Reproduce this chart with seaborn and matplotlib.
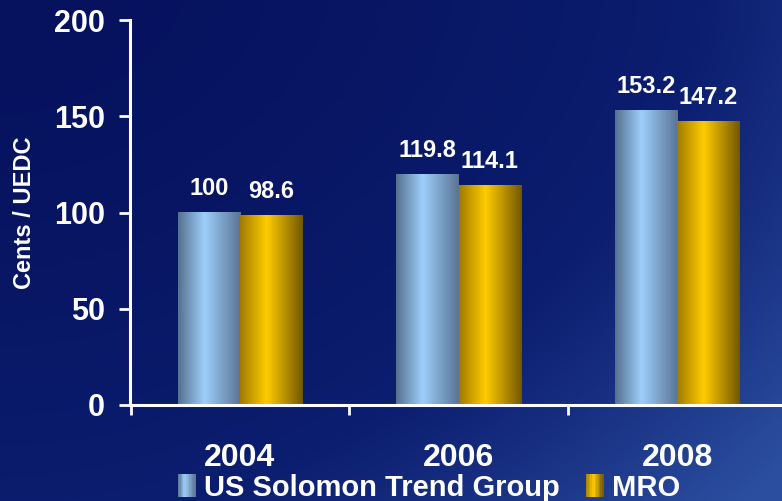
import numpy as np
import pandas as pd
import seaborn as sns
from matplotlib import pyplot as plt
from matplotlib.colors import LinearSegmentedColormap
from matplotlib.patches import Rectangle, Patch
from matplotlib.legend_handler import HandlerBase

years = ['2004', '2006', '2008']
series = ['US Solomon Trend Group', 'MRO']
solomon = [100, 119.8, 153.2]
mro = [98.6, 114.1, 147.2]
value_labels = [['100', '119.8', '153.2'], ['98.6', '114.1', '147.2']]

# cylinder-like shading for each series (left edge, highlight, right edge)
shades = {
    'US Solomon Trend Group': ['#56708e', '#9dcffb', '#5a7394'],
    'MRO': ['#a07a00', '#ffcc00', '#735800'],
}
cmaps = {k: LinearSegmentedColormap.from_list(k, [(0, v[0]), (0.42, v[1]), (1, v[2])])
         for k, v in shades.items()}

df = pd.DataFrame({
    'year': years * 2,
    'value': solomon + mro,
    'series': [series[0]] * 3 + [series[1]] * 3,
})

sns.set_theme(style='white')
plt.rcParams['font.family'] = ['Liberation Sans', 'DejaVu Sans']
plt.rcParams['font.weight'] = 'bold'

W, H = 782, 501
fig = plt.figure(figsize=(W / 100, H / 100), dpi=100)

# background gradient
bg = fig.add_axes([0, 0, 1, 1], zorder=-5)
gx, gy = np.meshgrid(np.linspace(0, 1, 300), np.linspace(0, 1, 200))
t = np.clip(0.6 * gx ** 1.8 + 0.45 * gy ** 1.6, 0, 1)
bg_cmap = LinearSegmentedColormap.from_list('bg', ['#06125e', '#0c1e70', '#2c4e9f'])
bg.imshow(t, cmap=bg_cmap, aspect='auto', extent=[0, 1, 0, 1], origin='upper', vmin=0, vmax=1)
bg.axis('off')

ax = fig.add_axes([130 / W, (H - 405) / H, (W - 130) / W, (405 - 20) / H])
ax.patch.set_alpha(0)

sns.barplot(data=df, x='year', y='value', hue='series', hue_order=series,
            width=0.57, ax=ax, palette=['#9dcffb', '#ffcc00'])

grad = np.linspace(0, 1, 200).reshape(1, -1)
for cont, name, labs in zip(ax.containers, series, value_labels):
    for bar in cont:
        x0, w, h = bar.get_x(), bar.get_width(), bar.get_height()
        ax.imshow(grad, extent=[x0, x0 + w, 0, h], aspect='auto', cmap=cmaps[name], zorder=2)
        bar.set_facecolor('none')
        bar.set_edgecolor('none')
    ax.bar_label(cont, labels=labs, padding=9, color='white', fontsize=17, fontweight='bold')

ax.set_xlim(-0.503, 2.48)
ax.set_ylim(0, 200)
ax.set_yticks([0, 50, 100, 150, 200])
ax.set_xticks([-0.5, 0.5, 1.5], minor=True)
ax.set_xlabel('')
ax.set_ylabel('Cents / UEDC', color='white', fontsize=17, fontweight='bold', labelpad=13)

for s in ['top', 'right']:
    ax.spines[s].set_visible(False)
for s in ['left', 'bottom']:
    ax.spines[s].set_color('white')
    ax.spines[s].set_linewidth(2.2)

ax.tick_params(axis='y', colors='white', labelsize=22, length=8, width=2, pad=10, direction='out', left=True)
ax.tick_params(axis='x', which='major', colors='white', labelsize=23, length=0, pad=27)
ax.tick_params(axis='x', which='minor', colors='white', length=7, width=2, direction='out', bottom=True)
for lab in ax.get_xticklabels() + ax.get_yticklabels():
    lab.set_fontweight('bold')


class GradHandler(HandlerBase):
    def create_artists(self, legend, orig_handle, xdescent, ydescent, width, height, fontsize, trans):
        cm = cmaps[orig_handle.get_label()]
        n = 12
        arts = []
        for i in range(n):
            arts.append(Rectangle((-xdescent + width * i / n, -ydescent - 2), width / n + 0.3, height + 4,
                                  facecolor=cm((i + 0.5) / n), edgecolor='none', transform=trans))
        return arts


ax.get_legend().remove()
handles = [Patch(label=s) for s in series]
leg = fig.legend(handles=handles, labels=series, loc='center', bbox_to_anchor=(429 / W, 1 - 488 / H),
                 ncol=2, frameon=False, fontsize=21, handlelength=0.6, handleheight=0.55,
                 handletextpad=0.3, columnspacing=0.9, handler_map={Patch: GradHandler()})
for txt in leg.get_texts():
    txt.set_color('white')
    txt.set_fontweight('bold')

fig.savefig('out.png', dpi=100)
